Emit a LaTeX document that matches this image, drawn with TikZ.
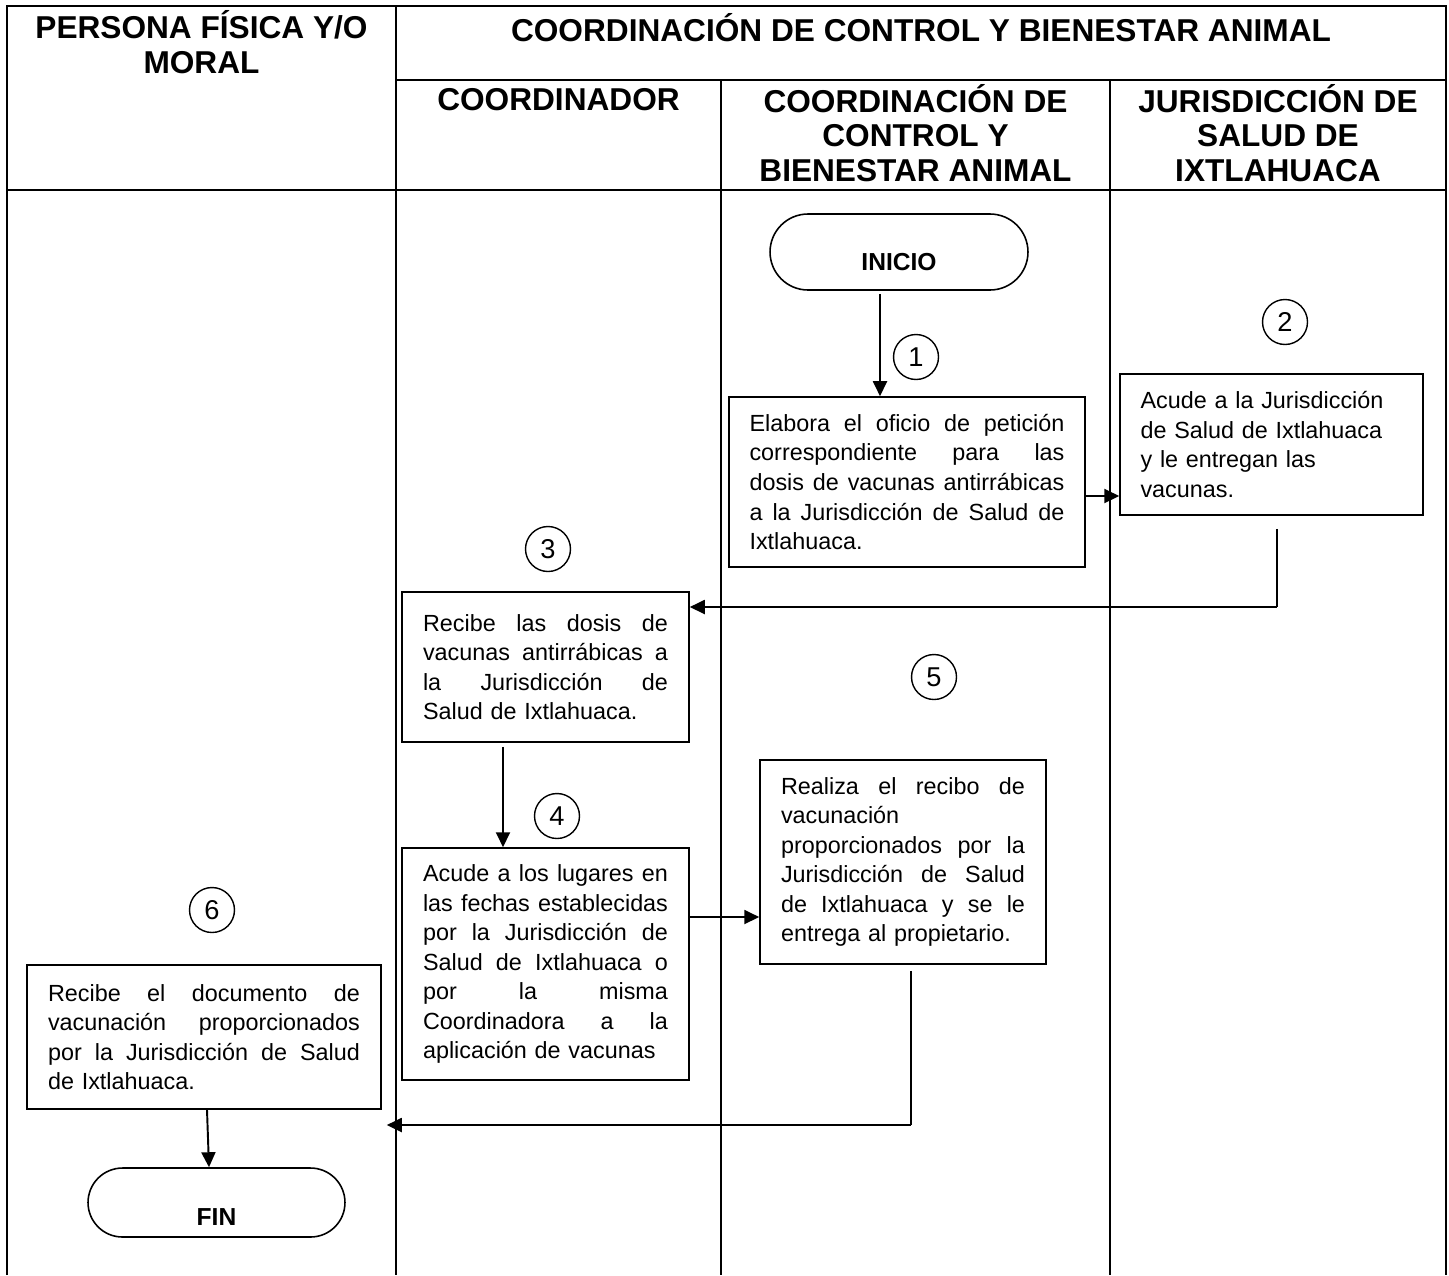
\documentclass[tikz,border=0pt]{standalone}
\usepackage{fontspec}
\setmainfont{Liberation Sans}
\usetikzlibrary{arrows.meta,shapes.misc}
\newcommand{\jline}[1]{\hbox to \hsize{\spaceskip=\fontdimen2\font plus 1fil\relax #1}}
\newcommand{\lline}[1]{\hbox to \hsize{#1\hfil}}
\begin{document}
\begin{tikzpicture}[x=0.02cm,y=-0.02cm,
  tbl/.style={line width=1.3pt},
  hdr/.style={font=\fontsize{18}{19.8}\selectfont\bfseries,align=center,inner sep=0pt},
  proc/.style={draw,line width=0.9pt,inner sep=0pt,font=\fontsize{13.3}{16.8}\selectfont},
  term/.style={draw,rounded rectangle,line width=0.9pt,inner sep=0pt},
  termtxt/.style={font=\fontsize{14}{16}\selectfont\bfseries,inner sep=0pt},
  num/.style={draw,circle,line width=0.8pt,minimum size=0.9cm,inner sep=0pt,font=\fontsize{15.5}{18}\selectfont},
  arr/.style={line width=1.1pt,-{Triangle[length=0.3cm,width=0.28cm]}},
  thinline/.style={line width=0.7pt}]
\useasboundingbox (0,0) rectangle (1449,1275);
% table grid
\draw[tbl] (7,1275) -- (7,6) -- (1446,6) -- (1446,1275);
\draw[tbl] (396,6) -- (396,1275);
\draw[tbl] (396,80) -- (1446,80);
\draw[tbl] (7,190) -- (1446,190);
\draw[tbl] (721,80) -- (721,1275);
\draw[tbl] (1110,80) -- (1110,1275);
% headers
\node[hdr] (h1) at (201.5,42.5) {PERSONA FÍSICA Y/O\\MORAL};
\node[hdr] (h2) at (921,28) {COORDINACIÓN DE CONTROL Y BIENESTAR ANIMAL};
\node[hdr] (h3) at (558.5,100) {COORDINADOR};
\node[hdr] (h4) at (915.5,133) {COORDINACIÓN DE\\CONTROL Y\\BIENESTAR ANIMAL};
\node[hdr] (h5) at (1278,133) {JURISDICCIÓN DE\\SALUD DE\\IXTLAHUACA};
% terminals
\node[term,minimum width=5.16cm,minimum height=1.52cm,
  label={[termtxt,yshift=-0.2cm]center:INICIO}] (ini) at (899,252) {};
\node[term,minimum width=5.14cm,minimum height=1.38cm,
  label={[termtxt,yshift=-0.29cm]center:FIN}] (fin) at (216.5,1202.5) {};
% process boxes
\node[proc,minimum width=7.12cm,minimum height=3.4cm,text width=6.3cm] (b1) at (907,482) {%
\jline{Elabora el oficio de petición}
\jline{correspondiente para las}
\jline{dosis de vacunas antirrábicas}
\jline{a la Jurisdicción de Salud de}
\lline{Ixtlahuaca.}};
\node[proc,minimum width=6.06cm,minimum height=2.82cm,text width=5.24cm,align=left] (b2) at (1271.5,444.5) {%
Acude a la Jurisdicción\\de Salud de Ixtlahuaca\\y le entregan las\\vacunas.};
\node[proc,minimum width=5.74cm,minimum height=3.0cm,text width=4.9cm] (b3) at (545.5,667) {%
\jline{Recibe las dosis de}
\jline{vacunas antirrábicas a}
\jline{la Jurisdicción de}
\lline{Salud de Ixtlahuaca.}};
\node[proc,minimum width=5.74cm,minimum height=4.64cm,text width=4.9cm] (b4) at (545.5,964) {%
\jline{Acude a los lugares en}
\jline{las fechas establecidas}
\jline{por la Jurisdicción de}
\jline{Salud de Ixtlahuaca o}
\jline{por la misma}
\jline{Coordinadora a la}
\lline{aplicación de vacunas}};
\node[proc,minimum width=5.72cm,minimum height=4.08cm,text width=4.88cm] (b5) at (903,862) {%
\jline{Realiza el recibo de}
\lline{vacunación}
\jline{proporcionados por la}
\jline{Jurisdicción de Salud}
\jline{de Ixtlahuaca y se le}
\lline{entrega al propietario.}};
\node[proc,minimum width=7.08cm,minimum height=2.88cm,text width=6.24cm] (b6) at (204,1037) {%
\jline{Recibe el documento de}
\jline{vacunación proporcionados}
\jline{por la Jurisdicción de Salud}
\lline{de Ixtlahuaca.}};
% step numbers
\node[num] (n1) at (916,357) {1};
\node[num] (n2) at (1285,322) {2};
\node[num] (n3) at (548,549) {3};
\node[num] (n4) at (557,816) {4};
\node[num] (n5) at (934,677) {5};
\node[num] (n6) at (212,910) {6};
% connector helper coordinates
\coordinate (a1) at (880,0);
\coordinate (a2) at (0,496);
\coordinate (a3) at (1277,607);
\coordinate (a4) at (503,0);
\coordinate (a5) at (0,917);
\coordinate (a6) at (911,1125);
\coordinate (a7) at (207,0);
\coordinate (a8) at (209,0);
% connectors
\draw[arr,shorten <=0.06cm] (ini.south -| a1) -- (b1.north -| a1);
\draw[arr] (b1.east |- a2) -- (b2.west |- a2);
\draw[thinline,shorten <=0.26cm] (b2.south -| a3) -- (a3);
\draw[arr] (a3) -- (b3.east |- a3);
\draw[arr,shorten <=0.08cm] (b3.south -| a4) -- (b4.north -| a4);
\draw[arr] (b4.east |- a5) -- (b5.west |- a5);
\draw[thinline,shorten <=0.12cm] (b5.south -| a6) -- (a6);
\draw[arr,shorten >=0.1cm] (a6) -- (b6.east |- a6);
\draw[arr] (b6.south -| a7) -- (fin.north -| a8);
\end{tikzpicture}
\end{document}
